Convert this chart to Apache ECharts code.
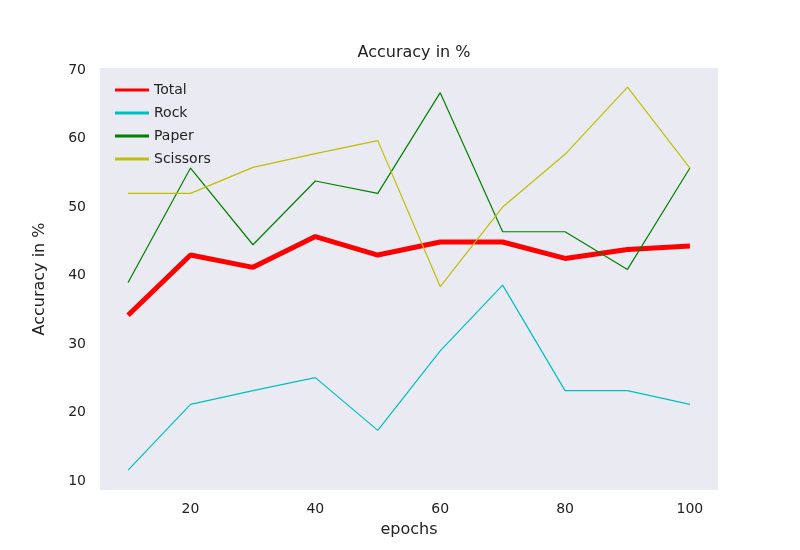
<!doctype html>
<html>
<head>
<meta charset="UTF-8">
<script src="https://cdn.jsdelivr.net/npm/echarts@6/dist/echarts.min.js"></script>
<style>
    body { margin: 0; background: #fff; }
    #chart { width: 800px; height: 550px; }
</style>
</head>
<body>
<div id="chart"></div>
<script>
    const epochs = [10, 20, 30, 40, 50, 60, 70, 80, 90, 100];
    const total = [34.2, 43.0, 41.2, 45.7, 43.0, 44.9, 44.9, 42.5, 43.8, 44.3];
    const rock = [11.6, 21.2, 23.2, 25.1, 17.4, 29.0, 38.6, 23.2, 23.2, 21.2];
    const paper = [39.0, 55.7, 44.5, 53.8, 52.0, 66.7, 46.4, 46.4, 40.9, 55.7];
    const scissors = [52.0, 52.0, 55.8, 57.8, 59.7, 38.4, 50.0, 57.7, 67.5, 55.7];
    const xTicks = [20, 40, 60, 80, 100];
    const yTicks = [10, 20, 30, 40, 50, 60, 70];

    const pairs = function (ys) {
        return epochs.map(function (x, i) { return [x, ys[i]]; });
    };
    const line = function (name, ys, color, width) {
        return {
            name: name, type: 'line', data: pairs(ys), symbol: 'none',
            lineStyle: { color: color, width: width }, itemStyle: { color: color },
            z: name === 'Total' ? 1 : 2
        };
    };

    const chart = echarts.init(document.getElementById('chart'));
    chart.setOption({
        animation: false,
        textStyle: { fontFamily: 'DejaVu Sans' },
        title: {
            text: 'Accuracy in %', left: 409, top: 40, textAlign: 'center',
            textStyle: { fontSize: 16, fontWeight: 'normal', color: '#222' }
        },
        legend: {
            left: 110, top: 78, orient: 'vertical', itemWidth: 34, itemHeight: 3,
            itemGap: 9, icon: 'rect',
            textStyle: { fontSize: 14, color: '#222' },
            data: ['Total', 'Rock', 'Paper', 'Scissors']
        },
        grid: {
            left: 100, right: 82, top: 68, bottom: 60, show: true,
            backgroundColor: '#eaeaf2', borderWidth: 0
        },
        xAxis: {
            type: 'value', min: 5.5, max: 104.5,
            name: 'epochs', nameLocation: 'middle', nameGap: 32,
            nameTextStyle: { fontSize: 16, color: '#222' },
            axisLine: { show: false }, axisTick: { show: false }, splitLine: { show: false },
            axisLabel: { customValues: xTicks, fontSize: 14, color: '#222', margin: 12 }
        },
        yAxis: {
            type: 'value', min: 8.7, max: 70.3,
            name: 'Accuracy in %', nameLocation: 'middle', nameGap: 52,
            nameTextStyle: { fontSize: 16, color: '#222' },
            axisLine: { show: false }, axisTick: { show: false }, splitLine: { show: false },
            axisLabel: { customValues: yTicks, fontSize: 14, color: '#222', margin: 14 }
        },
        series: [
            line('Total', total, '#ff0000', 5),
            line('Rock', rock, '#00bfbf', 1.2),
            line('Paper', paper, '#008000', 1.2),
            line('Scissors', scissors, '#bfbf00', 1.2)
        ]
    });
</script>
</body>
</html>
